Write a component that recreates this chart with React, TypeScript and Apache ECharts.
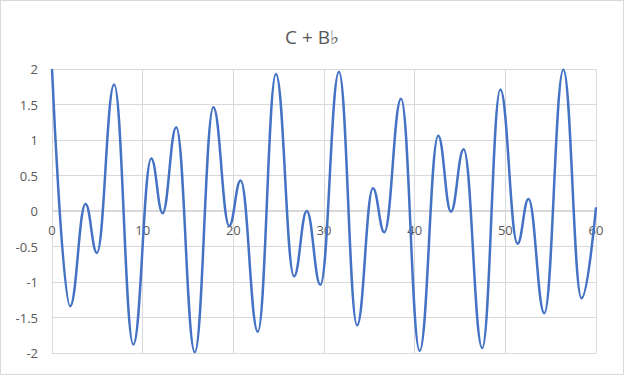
import React, { useEffect, useRef } from "react";
import * as echarts from "echarts";

// Turning points of the waveform
const xValues: number[] = [
  0, 2.0, 3.7, 4.95, 6.85, 8.97, 10.95, 12.2, 13.7, 15.75, 17.8, 19.55, 20.8,
  22.7, 24.7, 26.7, 28.1, 29.6, 31.65, 33.65, 35.4, 36.65, 38.5, 40.55, 42.6,
  44.0, 45.4, 47.45, 49.45, 51.35, 52.55, 54.3, 56.4, 58.4, 60,
];
const yValues: number[] = [
  2.0, -1.34, 0.1, -0.59, 1.78, -1.88, 0.74, -0.03, 1.18, -1.99, 1.46, -0.21,
  0.43, -1.7, 1.93, -0.92, 0.0, -1.04, 1.96, -1.61, 0.32, -0.3, 1.58, -1.97,
  1.06, -0.01, 0.87, -1.93, 1.71, -0.46, 0.17, -1.44, 1.99, -1.23, 0.05,
];
const titleText = "C + B\u266d";

export default function App() {
  const ref = useRef<HTMLDivElement>(null);
  useEffect(() => {
    document.body.style.margin = "0";
    if (!ref.current) return;
    const chart = echarts.init(ref.current, undefined, { renderer: "svg" });
    const data = xValues.map((x, i) => [x, yValues[i]]);
    const labelColor = "#595959";
    const font = "'Open Sans', 'Liberation Sans', sans-serif";
    chart.setOption({
      animation: false,
      backgroundColor: "#ffffff",
      title: {
        text: titleText,
        left: "center",
        top: 21,
        textStyle: {
          color: labelColor,
          fontSize: 19,
          fontWeight: "normal",
          fontFamily: font,
        },
      },
      grid: { left: 51, right: 27, top: 68, bottom: 21, containLabel: false },
      xAxis: {
        type: "value",
        min: 0,
        max: 60,
        interval: 10,
        position: "bottom",
        offset: -143,
        axisLine: { onZero: false, lineStyle: { color: "#d9d9d9", width: 1 } },
        axisTick: { show: false },
        axisLabel: {
          color: labelColor,
          fontSize: 13,
          fontFamily: font,
          margin: 13,
        },
        splitLine: { show: true, lineStyle: { color: "#d9d9d9", width: 1 } },
      },
      yAxis: {
        type: "value",
        min: -2,
        max: 2,
        interval: 0.5,
        axisLine: { show: true, lineStyle: { color: "#d9d9d9", width: 1 } },
        axisTick: { show: false },
        axisLabel: {
          color: labelColor,
          fontSize: 13,
          fontFamily: font,
          margin: 14,
        },
        splitLine: { show: true, lineStyle: { color: "#d9d9d9", width: 1 } },
      },
      series: [
        {
          type: "line",
          data,
          showSymbol: false,
          smooth: 0.42,
          smoothMonotone: "x",
          lineStyle: { color: "#4472C4", width: 2.5 },
          itemStyle: { color: "#4472C4" },
        },
      ],
    });
    return () => chart.dispose();
  }, []);
  return (
    <div
      ref={ref}
      style={{
        width: 624,
        height: 375,
        boxSizing: "border-box",
        border: "1px solid #d9d9d9",
      }}
    />
  );
}
